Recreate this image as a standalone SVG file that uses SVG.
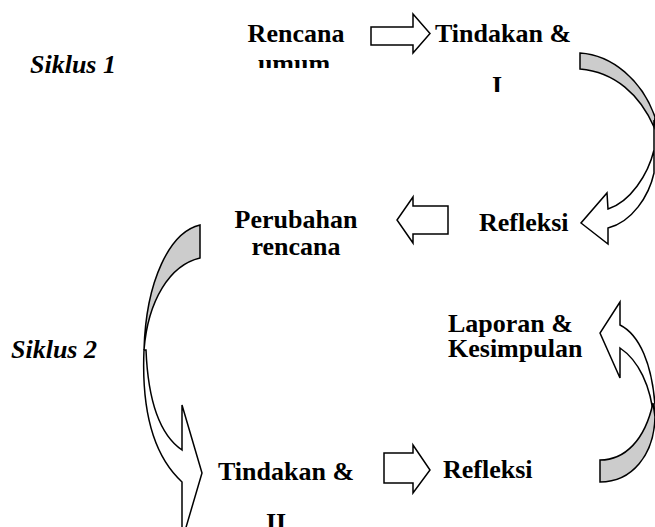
<svg xmlns="http://www.w3.org/2000/svg" width="655" height="527" viewBox="0 0 655 527">
<style>
text{font-family:"Liberation Serif","Times New Roman",serif;font-weight:bold;font-size:26px;fill:#000}
.it{font-style:italic}
.mid{text-anchor:middle}
.w{fill:#fff;stroke:#000;stroke-width:1.5;stroke-linejoin:miter}
.g{fill:#cccccc;stroke:#000;stroke-width:1.5;stroke-linejoin:miter}
</style>
<defs>
<clipPath id="cUmum"><rect x="240" y="50" width="110" height="18"/></clipPath>
<clipPath id="cI"><rect x="470" y="70" width="50" height="22"/></clipPath>
</defs>
<rect width="655" height="527" fill="#fff"/>
<g id="connectors">
<path class="w" d="M371,27 L413,27 L413,14 L430,33.5 L413,53 L413,45 L371,45 Z"/>
<path class="w" d="M620,302 L600,333 L620,378 L620,348 C638,360 651,385 654,420 L655,405 C652,365 640,335 620,325 Z"/>
<path class="g" d="M580,53 C612,55 642,80 655,117 L654,127 C640,95 615,72 580,69 Z"/>
<path class="w" d="M654,120 L654,173 C649,196 632,222 608,228 L608,244 L581,223 L607,193 L608,209 C630,202 648,175 654,150 Z"/>
<path class="w" d="M448,206 L413,206 L413,197 L397,220 L413,243 L413,234 L448,234 Z"/>
<path class="g" d="M200,225 C170,232 146,280 144,350 C148,300 170,265 200,258 Z"/>
<path class="w" d="M144,350 C141,420 158,460 182,482 L182,541 L202,473 L182,405 L182,450 C160,435 148,400 146,350 Z"/>
<path class="w" d="M384,453 L413,453 L413,445 L430,470 L413,493 L413,483 L384,483 Z"/>
<path class="g" d="M600,460 C625,460 645,440 653,403 L655,417 C654,455 632,482 600,482 Z"/>
</g>
<g id="siklus1"><text class="it" x="30" y="73">Siklus 1</text></g>
<g id="siklus2"><text class="it" x="11" y="358">Siklus 2</text></g>
<g id="rencana-umum">
<text class="mid" x="296" y="42">Rencana</text>
<text class="mid" x="294" y="72" clip-path="url(#cUmum)">umum</text>
</g>
<g id="tindakan-1">
<text x="435" y="42">Tindakan &amp;</text>
<text class="mid" x="497" y="94" clip-path="url(#cI)">I</text>
</g>
<g id="refleksi-1"><text x="479" y="231">Refleksi</text></g>
<g id="perubahan">
<text class="mid" x="296" y="228">Perubahan</text>
<text class="mid" x="296" y="255">rencana</text>
</g>
<g id="tindakan-2">
<text x="218" y="480">Tindakan &amp;</text>
<text class="mid" x="276" y="531">II</text>
</g>
<g id="refleksi-2"><text x="443" y="478">Refleksi</text></g>
<g id="laporan">
<text x="448" y="332">Laporan &amp;</text>
<text x="448" y="357">Kesimpulan</text>
</g>
</svg>
